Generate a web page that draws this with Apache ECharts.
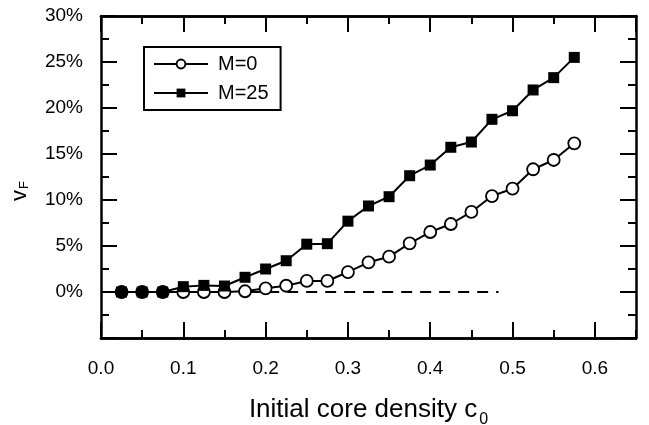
<!DOCTYPE html>
<html>
<head>
<meta charset="utf-8">
<script src="https://cdn.jsdelivr.net/npm/echarts@6/dist/echarts.min.js"></script>
<style>
  html, body { margin: 0; padding: 0; background: #fff; }
  #chart { width: 649px; height: 425px; }
</style>
</head>
<body>
<div id="chart"></div>
<script>
// initial core density c0
const coreDensity = [0.025, 0.05, 0.075, 0.1, 0.125, 0.15, 0.175, 0.2, 0.225, 0.25, 0.275, 0.3,
                     0.325, 0.35, 0.375, 0.4, 0.425, 0.45, 0.475, 0.5, 0.525, 0.55, 0.575];
// vF in percent
const vfM0 = [0, 0, 0, 0, 0, 0, 0.08, 0.4, 0.68, 1.2, 1.2, 2.17,
              3.23, 3.84, 5.29, 6.52, 7.39, 8.7, 10.43, 11.23, 13.34, 14.35, 16.16];
const vfM25 = [0, 0, 0, 0.58, 0.72, 0.65, 1.6, 2.5, 3.4, 5.2, 5.25, 7.7,
               9.35, 10.36, 12.64, 13.8, 15.73, 16.3, 18.77, 19.7, 21.96, 23.3, 25.5];
// dashed zero reference
const zeroLineX = [0.18, 0.483];
const zeroLineY = [0, 0];

const black = '#000';
const fontFamily = '"Liberation Sans", Arial, Helvetica, sans-serif';

function xAxisOf(position, interval, tickLen, withLabels) {
    const axis = {
        type: 'value',
        position: position,
        min: 0,
        max: 0.65,
        interval: interval,
        axisLine: { show: true, onZero: false, lineStyle: { color: black, width: 2.5 } },
        axisTick: { inside: true, length: tickLen, lineStyle: { color: black, width: 2 } },
        splitLine: { show: false },
        axisLabel: { show: false }
    };
    if (withLabels) {
        axis.axisLabel = {
            show: true,
            margin: 21,
            fontSize: 19,
            color: black,
            fontFamily: fontFamily,
            showMaxLabel: false,
            formatter: v => v.toFixed(1)
        };
        axis.name = 'Initial core density c{sub|0}';
        axis.nameLocation = 'middle';
        axis.nameGap = 54;
        axis.nameTextStyle = {
            fontSize: 26,
            color: black,
            fontFamily: fontFamily,
            rich: {
                sub: { fontSize: 16, fontFamily: fontFamily, color: black, verticalAlign: 'bottom', padding: [20, 0, 0, 2] }
            }
        };
    }
    return axis;
}

function yAxisOf(position, withLabels) {
    const axis = {
        type: 'value',
        position: position,
        min: -5,
        max: 30,
        interval: 5,
        axisLine: { show: true, onZero: false, lineStyle: { color: black, width: 2.5 } },
        axisTick: { inside: true, length: 16, lineStyle: { color: black, width: 2 } },
        minorTick: { show: true, splitNumber: 2, length: 8, lineStyle: { color: black, width: 2 } },
        splitLine: { show: false },
        minorSplitLine: { show: false },
        axisLabel: { show: false }
    };
    if (withLabels) {
        axis.axisLabel = {
            show: true,
            margin: 18,
            fontSize: 19,
            color: black,
            fontFamily: fontFamily,
            showMinLabel: false,
            formatter: v => v + '%'
        };
        axis.name = 'v{sub|F}';
        axis.nameLocation = 'middle';
        axis.nameGap = 70;
        axis.nameTextStyle = {
            fontSize: 22,
            color: black,
            fontFamily: fontFamily,
            padding: [0, 28, 0, 0],
            rich: {
                sub: { fontSize: 13, fontFamily: fontFamily, color: black, verticalAlign: 'bottom', padding: [10, 0, 0, 1] }
            }
        };
    }
    return axis;
}

const chart = echarts.init(document.getElementById('chart'));
chart.setOption({
    animation: false,
    backgroundColor: '#fff',
    grid: { left: 101, right: 13, top: 16, bottom: 87, containLabel: false, outerBoundsMode: 'none' },
    legend: {
        data: ['M=0', 'M=25'],
        orient: 'vertical',
        left: 144,
        top: 47,
        padding: [7, 12, 7, 9],
        itemGap: 9,
        itemWidth: 54,
        itemHeight: 11,
        borderColor: black,
        borderWidth: 2,
        textStyle: { fontSize: 20, color: black, fontFamily: fontFamily, padding: [0, 0, 0, 5] }
    },
    xAxis: [
        xAxisOf('bottom', 0.1, 16, true),
        xAxisOf('bottom', 0.05, 8, false),
        xAxisOf('top', 0.1, 16, false),
        xAxisOf('top', 0.05, 8, false)
    ],
    yAxis: [
        yAxisOf('left', true),
        yAxisOf('right', false)
    ],
    series: [
        {
            name: 'zero',
            type: 'line',
            data: zeroLineX.map((x, i) => [x, zeroLineY[i]]),
            symbol: 'none',
            silent: true,
            lineStyle: { color: black, width: 2, type: [11, 8] },
            z: 1
        },
        {
            name: 'M=0',
            type: 'line',
            data: coreDensity.map((x, i) => [x, vfM0[i]]),
            symbol: 'circle',
            symbolSize: 12,
            itemStyle: { color: '#fff', borderColor: black, borderWidth: 1.8 },
            lineStyle: { color: black, width: 2 },
            z: 2
        },
        {
            name: 'M=25',
            type: 'line',
            data: coreDensity.map((x, i) => [x, vfM25[i]]),
            symbol: 'rect',
            symbolSize: 11,
            itemStyle: { color: black },
            lineStyle: { color: black, width: 2 },
            z: 3
        }
    ]
});
</script>
</body>
</html>
